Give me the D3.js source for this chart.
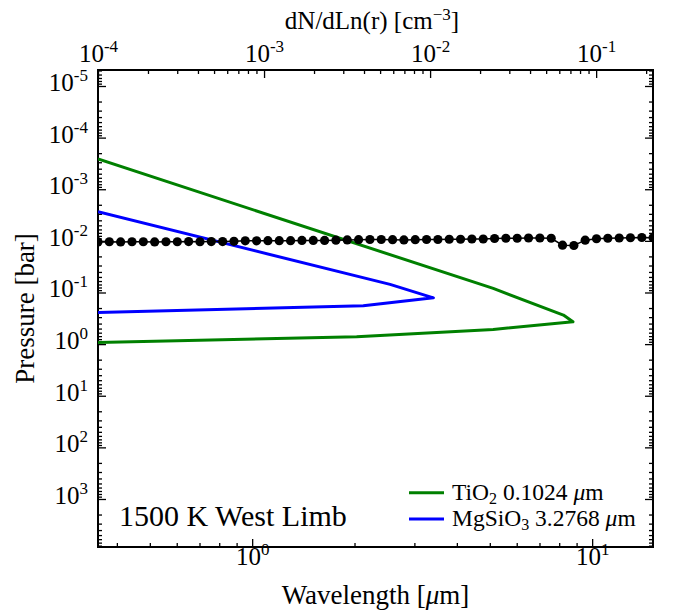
<!DOCTYPE html>
<html><head><meta charset="utf-8">
<script src="https://cdn.jsdelivr.net/npm/d3@7"></script>
<style>
html,body{margin:0;padding:0;background:#fff;}
</style></head>
<body><svg id="c" width="673" height="612"></svg>
<script>
// ---- data ----
const wavelength = [0.3519,0.3800,0.4103,0.4431,0.4784,0.5166,0.5578,0.6023,0.6503,0.7022,
  0.7582,0.8187,0.8840,0.9543,1.0304,1.1126,1.2013,1.2972,1.4007,1.5124,
  1.6331,1.7634,1.9040,2.0558,2.2199,2.3969,2.5881,2.7945,3.0175,3.2580,
  3.5180,3.7985,4.1015,4.4287,4.7818,5.1633,5.5752,6.0198,6.5002,7.0186,
  7.5784,8.1829,8.8356,9.5404,10.30,11.12,12.01,12.96,14.00,15.11];
const photoPressure = [0.0105,0.0104,0.0105,0.0104,0.0104,0.0105,0.0104,0.0104,0.0103,0.0104,
  0.0103,0.0103,0.0102,0.0100,0.0100,0.0099,0.0099,0.0099,0.0098,0.0098,
  0.0098,0.0097,0.0096,0.0095,0.0094,0.0094,0.0095,0.0096,0.0095,0.0094,
  0.0094,0.0093,0.0093,0.0092,0.0092,0.0090,0.0089,0.0089,0.0088,0.0088,
  0.0089,0.0121,0.0123,0.0097,0.0091,0.0089,0.0088,0.0087,0.0086,0.0087];
const tio2N = [1e-4, 0.0240, 0.0635, 0.0725, 0.0240, 0.00361, 1e-4];
const tio2P = [2.6e-4, 0.0834, 0.274, 0.370, 0.519, 0.723, 0.927];
const mgsio3N = [1e-4, 0.00574, 0.01047, 0.00396, 1e-4];
const mgsio3P = [2.73e-3, 0.0697, 0.127, 0.181, 0.243];
const seriesNames = ["TiO", "MgSiO"];
const seriesSub = ["2", "3"];
const seriesSize = ["0.1024", "3.2768"];
const seriesColors = ["#008000", "#0000ff"];
const yMajor = [-5,-4,-3,-2,-1,0,1,2,3];
const xMajor = [0,1];
const topMajor = [-4,-3,-2,-1];

const FONT = "'Liberation Serif', 'Times New Roman', Tinos, 'Nimbus Roman', 'DejaVu Serif', serif";

// ---- layout ----
const L=98, R=653, T=70, B=547;
const svg = d3.select("#c");
svg.append("rect").attr("width",673).attr("height",612).attr("fill","#fff");
const x = d3.scaleLog().domain([0.352, 15.1]).range([L,R]);
const xt = d3.scaleLog().domain([1e-4, 0.22]).range([L,R]);
const y = d3.scaleLog().domain([4.9e-6, 8.51e3]).range([T,B]);

svg.append("defs").append("clipPath").attr("id","clip")
  .append("rect").attr("x",L).attr("y",T).attr("width",R-L).attr("height",B-T);

function minors(scale){
  const d = scale.domain(); const out=[];
  for(let e=Math.floor(Math.log10(d[0]))-1;e<=Math.ceil(Math.log10(d[1]));e++){
    for(let m=2;m<=9;m++){const v=m*Math.pow(10,e); if(v>=d[0]&&v<=d[1]) out.push(v);}
  }
  return out;
}
function supLabel(sel, fs, sfs, shift){
  sel.selectAll(".tick text").each(function(d){
    const t=d3.select(this); t.text("");
    t.attr("font-family", FONT).attr("fill","#000");
    const e = Math.round(Math.log10(d));
    t.append("tspan").text("10").attr("font-size",fs);
    t.append("tspan").attr("dy",-shift).text(String(e)).attr("font-size",sfs);
  });
}
function styleAxis(g){
  g.attr("font-family", FONT);
  g.select(".domain").remove();
  g.selectAll(".tick line").attr("stroke","#000").attr("stroke-width",1.3);
}

// minor ticks
const gyl = svg.append("g").attr("transform",`translate(${L},0)`)
  .call(d3.axisLeft(y).tickValues(minors(y)).tickSize(-4).tickFormat(""));
styleAxis(gyl);
const gyr = svg.append("g").attr("transform",`translate(${R},0)`)
  .call(d3.axisRight(y).tickValues(minors(y)).tickSize(-4).tickFormat(""));
styleAxis(gyr);
const gxb = svg.append("g").attr("transform",`translate(0,${B})`)
  .call(d3.axisBottom(x).tickValues(minors(x)).tickSize(-4).tickFormat(""));
styleAxis(gxb);
const gxt = svg.append("g").attr("transform",`translate(0,${T})`)
  .call(d3.axisTop(xt).tickValues(minors(xt)).tickSize(-4).tickFormat(""));
styleAxis(gxt);

// major ticks
const gy = svg.append("g").attr("transform",`translate(${L},0)`)
  .call(d3.axisLeft(y).tickValues(yMajor.map(e=>Math.pow(10,e))).tickSize(-8).tickPadding(10));
styleAxis(gy);
gy.selectAll(".tick text").attr("dy","0.45em");
supLabel(gy, 25, 17, 10);
const gyr2 = svg.append("g").attr("transform",`translate(${R},0)`)
  .call(d3.axisRight(y).tickValues(yMajor.map(e=>Math.pow(10,e))).tickSize(-8).tickFormat(""));
styleAxis(gyr2);

const gx = svg.append("g").attr("transform",`translate(0,${B})`)
  .call(d3.axisBottom(x).tickValues(xMajor.map(e=>Math.pow(10,e))).tickSize(-8).tickPadding(9));
styleAxis(gx);
gx.selectAll(".tick text").attr("dy","0.92em");
supLabel(gx, 25, 17, 10);

const gt = svg.append("g").attr("transform",`translate(0,${T})`)
  .call(d3.axisTop(xt).tickValues(topMajor.map(e=>Math.pow(10,e))).tickSize(-8).tickPadding(8));
styleAxis(gt);
gt.selectAll(".tick text").attr("dy","0em");
supLabel(gt, 25, 17, 10);

// frame
svg.append("rect").attr("x",L).attr("y",T).attr("width",R-L).attr("height",B-T)
  .attr("fill","none").attr("stroke","#000").attr("stroke-width",2);

// data
const plot = svg.append("g").attr("clip-path","url(#clip)");
const lineTop = d3.line().x(d=>xt(d[0])).y(d=>y(d[1]));
plot.append("path").datum(tio2N.map((n,i)=>[n,tio2P[i]]))
  .attr("d",lineTop).attr("fill","none").attr("stroke",seriesColors[0]).attr("stroke-width",3).attr("stroke-linejoin","round");
plot.append("path").datum(mgsio3N.map((n,i)=>[n,mgsio3P[i]]))
  .attr("d",lineTop).attr("fill","none").attr("stroke",seriesColors[1]).attr("stroke-width",3).attr("stroke-linejoin","round");
const pts = wavelength.map((w,i)=>[w,photoPressure[i]]);
plot.append("path").datum(pts).attr("d",d3.line().x(d=>x(d[0])).y(d=>y(d[1])))
  .attr("fill","none").attr("stroke","#000").attr("stroke-width",1.5);
plot.selectAll("circle").data(pts).join("circle")
  .attr("cx",d=>x(d[0])).attr("cy",d=>y(d[1])).attr("r",4.6).attr("fill","#000");

function txt(){ return svg.append("text").attr("font-family",FONT).attr("fill","#000"); }

// axis titles
txt().attr("x",(L+R)/2).attr("y",604).attr("text-anchor","middle").attr("font-size",27)
  .call(t=>{t.append("tspan").text("Wavelength [");t.append("tspan").text("μ").attr("font-style","italic");t.append("tspan").text("m]");});
txt().attr("transform","translate(34,"+((T+B)/2)+") rotate(-90)").attr("text-anchor","middle")
  .attr("font-size",27).text("Pressure [bar]");
txt().attr("x",372).attr("y",29).attr("text-anchor","middle").attr("font-size",25)
  .call(t=>{t.append("tspan").text("dN/dLn(r) [cm");t.append("tspan").attr("dy",-9).attr("font-size",17).text("−3");t.append("tspan").attr("dy",9).text("]");});

// annotation
txt().attr("x",119).attr("y",526).attr("font-size",30).text("1500 K West Limb");

// legend
[0,1].forEach(i=>{
  const yy = 492.7 + i*26.3;
  svg.append("line").attr("x1",409).attr("x2",444).attr("y1",yy).attr("y2",yy)
    .attr("stroke",seriesColors[i]).attr("stroke-width",3);
  const t = txt().attr("x",452).attr("y",yy+7).attr("font-size",23.5);
  t.append("tspan").text(seriesNames[i]);
  t.append("tspan").attr("dy",4).attr("font-size",16).text(seriesSub[i]);
  t.append("tspan").attr("dy",-4).text(" "+seriesSize[i]+" ");
  t.append("tspan").attr("font-style","italic").text("μ");
  t.append("tspan").text("m");
});
</script></body></html>
